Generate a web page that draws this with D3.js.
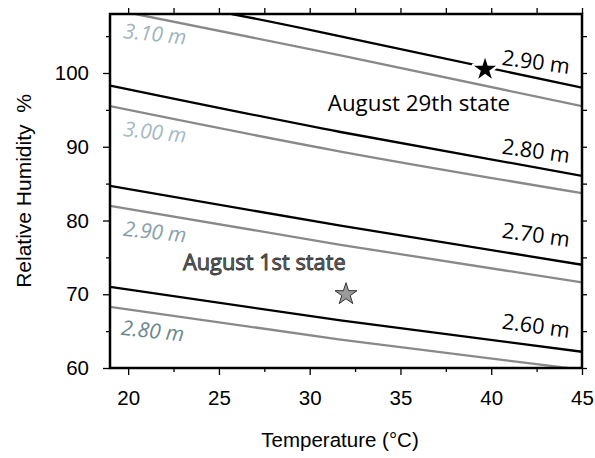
<!DOCTYPE html>
<html>
<head>
<meta charset="utf-8">
<script src="https://cdn.jsdelivr.net/npm/d3@7"></script>
<style>
  html, body { margin: 0; padding: 0; background: #fff; }
  svg { display: block; }
</style>
</head>
<body>
<svg id="chart" width="595" height="458"></svg>
<script>
// Iso-level contours of water level (m) against air temperature and relative humidity

// Black contour family, labelled on the right
const blackLevels = ["2.90 m", "2.80 m", "2.70 m", "2.60 m"];
const blackLines = [
  [[25.7, 108.0], [30.6, 105.55], [45, 98.0]],
  [[19, 98.3], [31.7, 92.0], [45, 86.05]],
  [[19, 84.7], [31.7, 79.3], [45, 74.0]],
  [[19, 71.0], [31.7, 66.45], [45, 62.2]]
];
const blackLabelAt = [[42.47, 101.5], [42.47, 89.44], [42.47, 78.05], [42.47, 65.72]];

// Grey contour family, labelled on the left
const greyLevels = ["3.10 m", "3.00 m", "2.90 m", "2.80 m"];
const greyLines = [
  [[20.4, 108.0], [31.7, 102.4], [45, 95.5]],
  [[19, 95.5], [31.7, 89.35], [45, 83.7]],
  [[19, 82.0], [31.7, 76.7], [45, 71.6]],
  [[19, 68.3], [31.7, 63.85], [44.2, 60]]
];
const greyLabelAt = [[21.48, 105.29], [21.48, 92.0], [21.48, 78.46], [21.35, 65.05]];
const greyLabelColors = ["#9db4bf", "#a3bac4", "#86a0a9", "#6b878f"];

// Observed states
const stateNames = ["August 29th state", "August 1st state"];
const stateTemp = [39.66, 32.0];
const stateRH = [100.5, 70.0];
const stateLabelAt = [[31.0, 94.85], [23.02, 73.3]];

// Axis ticks
const xMajorTicks = [20, 25, 30, 35, 40, 45];
const xMinorTicks = [22.5, 27.5, 32.5, 37.5, 42.5];
const yMajorTicks = [60, 70, 80, 90, 100];
const yMinorTicks = [65, 75, 85, 95, 105];

const xDomain = [19, 45];
const yDomain = [60, 108];

const svg = d3.select("#chart");
const margin = { left: 110, right: 13, top: 14, bottom: 90 };
const W = 595, H = 458;
const x = d3.scaleLinear().domain(xDomain).range([margin.left, W - margin.right]);
const y = d3.scaleLinear().domain(yDomain).range([H - margin.bottom, margin.top]);

const plotBottom = y(yDomain[0]), plotTop = y(yDomain[1]);
const plotLeft = x(xDomain[0]), plotRight = x(xDomain[1]);

svg.append("defs").append("clipPath").attr("id", "plotClip")
  .append("rect")
  .attr("x", plotLeft).attr("y", plotTop)
  .attr("width", plotRight - plotLeft)
  .attr("height", plotBottom - plotTop);

const plot = svg.append("g").attr("clip-path", "url(#plotClip)");
const line = d3.line().x(d => x(d[0])).y(d => y(d[1])).curve(d3.curveNatural);

plot.selectAll("path.grey").data(greyLines).join("path")
  .attr("class", "grey")
  .attr("d", line)
  .attr("fill", "none").attr("stroke", "#898989").attr("stroke-width", 2.3);

plot.selectAll("path.black").data(blackLines).join("path")
  .attr("class", "black")
  .attr("d", line)
  .attr("fill", "none").attr("stroke", "#000").attr("stroke-width", 2.3);

// Contour labels
const labelFont = "'Open Sans', 'Noto Sans', sans-serif";
svg.selectAll("text.blabel").data(blackLevels).join("text")
  .attr("class", "blabel")
  .attr("transform", (d, i) => `translate(${x(blackLabelAt[i][0])},${y(blackLabelAt[i][1])}) rotate(8)`)
  .attr("text-anchor", "middle").attr("dy", "0.35em")
  .attr("font-family", labelFont).attr("font-size", 21.5)
  .attr("fill", "#000")
  .text(d => d);

svg.selectAll("text.glabel").data(greyLevels).join("text")
  .attr("class", "glabel")
  .attr("transform", (d, i) => `translate(${x(greyLabelAt[i][0])},${y(greyLabelAt[i][1])}) rotate(6)`)
  .attr("text-anchor", "middle").attr("dy", "0.35em")
  .attr("font-family", labelFont).attr("font-size", 20.8).attr("font-style", "italic")
  .attr("fill", (d, i) => greyLabelColors[i])
  .text(d => d);

// State markers
const star = d3.symbol().type(d3.symbolStar).size(150);
svg.append("path")
  .attr("d", star)
  .attr("transform", `translate(${x(stateTemp[0])},${y(stateRH[0])})`)
  .attr("fill", "#000").attr("stroke", "#fff").attr("stroke-width", 5)
  .attr("stroke-linejoin", "round")
  .attr("paint-order", "stroke");
svg.append("path")
  .attr("d", star)
  .attr("transform", `translate(${x(stateTemp[1])},${y(stateRH[1])})`)
  .attr("fill", "#9a9a9a").attr("stroke", "#333").attr("stroke-width", 1);

svg.append("text")
  .attr("x", x(stateLabelAt[0][0])).attr("y", y(stateLabelAt[0][1]))
  .attr("font-family", labelFont).attr("font-size", 22.3)
  .attr("fill", "#000")
  .text(stateNames[0]);
svg.append("text")
  .attr("x", x(stateLabelAt[1][0])).attr("y", y(stateLabelAt[1][1]))
  .attr("font-family", labelFont).attr("font-size", 21.8)
  .attr("fill", "#6a6a6a").attr("stroke", "#2e2e2e").attr("stroke-width", 0.8)
  .text(stateNames[1]);

// Axes
const tickFont = "'Liberation Sans', Arial, Helvetica, sans-serif";
function styleAxis(g) {
  g.select(".domain").remove();
  g.selectAll(".tick line").attr("stroke", "#000").attr("stroke-width", 1.3);
  g.selectAll(".tick text").attr("font-family", tickFont).attr("font-size", 20.5).attr("fill", "#000");
}

svg.append("g").attr("transform", `translate(0,${plotBottom})`)
  .call(d3.axisBottom(x).tickValues(xMajorTicks).tickSize(7).tickPadding(15).tickFormat(d3.format("d")))
  .call(styleAxis);
svg.append("g").attr("transform", `translate(0,${plotBottom})`)
  .call(d3.axisBottom(x).tickValues(xMinorTicks).tickSize(4).tickFormat(""))
  .call(styleAxis);
svg.append("g").attr("transform", `translate(0,${plotTop})`)
  .call(d3.axisTop(x).tickValues(xMajorTicks.concat(xMinorTicks)).tickSize(6).tickFormat(""))
  .call(styleAxis);

svg.append("g").attr("transform", `translate(${plotLeft},0)`)
  .call(d3.axisLeft(y).tickValues(yMajorTicks).tickSize(7).tickPadding(14).tickFormat(d3.format("d")))
  .call(styleAxis);
svg.append("g").attr("transform", `translate(${plotLeft},0)`)
  .call(d3.axisLeft(y).tickValues(yMinorTicks).tickSize(4).tickFormat(""))
  .call(styleAxis);
svg.append("g").attr("transform", `translate(${plotRight},0)`)
  .call(d3.axisRight(y).tickValues(yMajorTicks.concat(yMinorTicks)).tickSize(5).tickFormat(""))
  .call(styleAxis);

// Frame
svg.append("rect")
  .attr("x", plotLeft).attr("y", plotTop)
  .attr("width", plotRight - plotLeft).attr("height", plotBottom - plotTop)
  .attr("fill", "none").attr("stroke", "#000").attr("stroke-width", 2.5);

// Axis titles
svg.append("text")
  .attr("x", (plotLeft + plotRight) / 2 - 6).attr("y", 447)
  .attr("text-anchor", "middle")
  .attr("font-family", tickFont).attr("font-size", 20.5)
  .text("Temperature (°C)");
svg.append("text")
  .attr("transform", `translate(31,${(plotTop + plotBottom) / 2}) rotate(-90)`)
  .attr("text-anchor", "middle")
  .attr("font-family", tickFont).attr("font-size", 21)
  .style("white-space", "pre")
  .text("Relative Humidity  %");
</script>
</body>
</html>
